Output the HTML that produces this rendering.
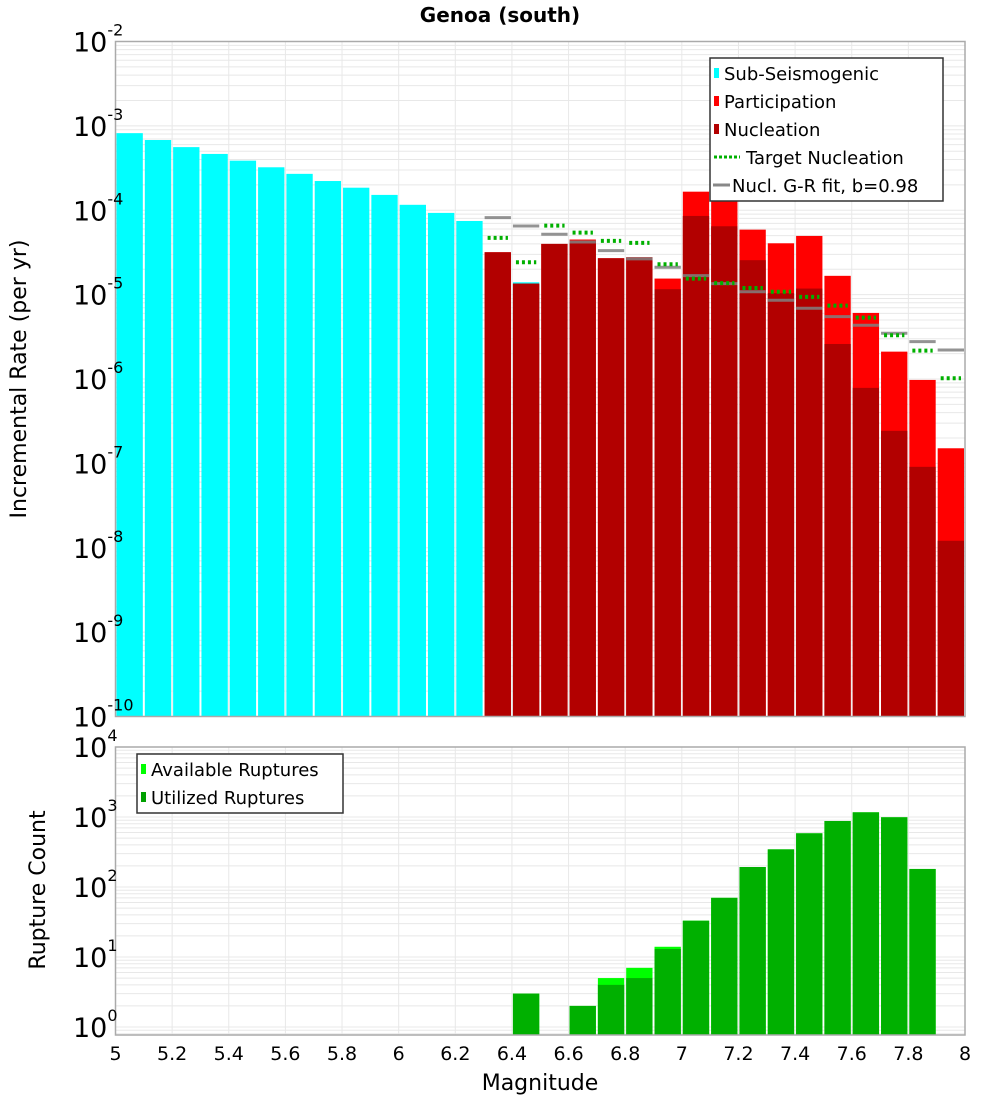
<!DOCTYPE html>
<html><head><meta charset="utf-8">
<style>
html,body{margin:0;padding:0;background:#fff;}
svg{display:block;font-family:"DejaVu Sans","Liberation Sans",sans-serif;}
</style></head>
<body>
<svg id="chart" width="1000" height="1100" viewBox="0 0 1000 1100" xmlns="http://www.w3.org/2000/svg">
<rect x="0" y="0" width="1000" height="1100" fill="#fff"/>
<text x="500" y="22" text-anchor="middle" font-size="20" font-weight="bold">Genoa (south)</text>
<g id="gtop"></g>
<g id="gbot"></g>
</svg>
<script>
// ---- data ----
const binCenters = [5.05,5.15,5.25,5.35,5.45,5.55,5.65,5.75,5.85,5.95,6.05,6.15,6.25,6.35,6.45,6.55,6.65,6.75,6.85,6.95,7.05,7.15,7.25,7.35,7.45,7.55,7.65,7.75,7.85,7.95];
const subSeis = [8.2e-4,6.8e-4,5.6e-4,4.65e-4,3.87e-4,3.23e-4,2.7e-4,2.22e-4,1.85e-4,1.52e-4,1.16e-4,9.3e-5,7.46e-5,0,1.4e-5,0,0,0,0,0,0,0,0,0,0,0,0,0,0,0];
const participation = [0,0,0,0,0,0,0,0,0,0,0,0,0,3.18e-5,1.35e-5,3.99e-5,4.5e-5,2.7e-5,2.77e-5,1.55e-5,1.66e-4,1.4e-4,5.89e-5,4.06e-5,4.96e-5,1.67e-5,6.07e-6,2.11e-6,9.75e-7,1.51e-7];
const nucleation = [0,0,0,0,0,0,0,0,0,0,0,0,0,3.18e-5,1.35e-5,3.99e-5,4.36e-5,2.7e-5,2.77e-5,1.16e-5,8.56e-5,6.46e-5,2.56e-5,1.04e-5,1.18e-5,2.6e-6,7.85e-7,2.43e-7,9.1e-8,1.21e-8];
const targetNucl = [0,0,0,0,0,0,0,0,0,0,0,0,0,4.7e-5,2.42e-5,6.57e-5,5.43e-5,4.33e-5,4.1e-5,2.29e-5,1.55e-5,1.37e-5,1.2e-5,1.08e-5,9.4e-6,7.4e-6,5.34e-6,3.3e-6,2.17e-6,1.02e-6];
const grFit = [0,0,0,0,0,0,0,0,0,0,0,0,0,8.17e-5,6.5e-5,5.2e-5,4.21e-5,3.32e-5,2.65e-5,2.11e-5,1.68e-5,1.35e-5,1.08e-5,8.59e-6,6.9e-6,5.49e-6,4.34e-6,3.49e-6,2.77e-6,2.21e-6];
const availRup = [0,0,0,0,0,0,0,0,0,0,0,0,0,0,3,0,2,5,7,14,33,70,193,345,585,877,1167,991,181,0];
const usedRup = [0,0,0,0,0,0,0,0,0,0,0,0,0,0,3,0,2,4,5,13,33,70,193,345,585,877,1167,991,181,0];
const xTicks = [5,5.2,5.4,5.6,5.8,6,6.2,6.4,6.6,6.8,7,7.2,7.4,7.6,7.8,8];
const topExp = [-2,-3,-4,-5,-6,-7,-8,-9,-10];
const botExp = [4,3,2,1,0];

// ---- axes ----
const X0=115.5, X1=965, XMIN=5, XMAX=8;
const xs = m => X0 + (m-XMIN)/(XMAX-XMIN)*(X1-X0);
const T0=41.5, T1=716.5, TMAXE=-2, TMINE=-10;
const ysT = v => T0 + (TMAXE-Math.log10(v))/(TMAXE-TMINE)*(T1-T0);
const B0=747, BPD=70, B1=1035;
const ysB = v => B0 + (4-Math.log10(v))*BPD;
const NS="http://www.w3.org/2000/svg";
function mk(parent,tag,attrs){const e=document.createElementNS(NS,tag);for(const k in attrs)e.setAttribute(k,attrs[k]);parent.appendChild(e);return e;}
const gTop=document.getElementById('gtop'), gBot=document.getElementById('gbot');
const bw=(X1-X0)/30;

function grid(g,y0,y1,yfn,expLo,expHi){
  for(let e=expLo;e<expHi;e++){for(let k=1;k<10;k++){const y=yfn(k*Math.pow(10,e));if(y<y0-0.5||y>y1+0.5)continue;
    const l=mk(g,'line',{x1:X0,x2:X1,y1:y,y2:y,stroke:'#e8e8e8','stroke-width':1});
    
    }}
  xTicks.forEach(t=>{const l=mk(g,'line',{x1:xs(t),x2:xs(t),y1:y0,y2:y1,stroke:'#e8e8e8','stroke-width':1});
    
    });
}
grid(gTop,T0,T1,ysT,-10,-1);
grid(gBot,B0,B1,ysB,-1,4);

function bar(g,i,v,y1,yfn,color,name){
  if(!(v>0))return;
  const yt=Math.max(yfn(v),0);
  const r=mk(g,'rect',{x:xs(binCenters[i])-bw/2+1,y:yt,width:bw-2,height:Math.max(0,y1-yt),fill:color});
  
  
}
binCenters.forEach((c,i)=>{
  bar(gTop,i,subSeis[i],T1,ysT,'#00ffff','bar-sub-seismogenic');
  bar(gTop,i,participation[i],T1,ysT,'#ff0000','bar-participation');
  bar(gTop,i,nucleation[i],T1,ysT,'#b20000','bar-nucleation');
});
binCenters.forEach((c,i)=>{
  if(grFit[i]>0){const y=ysT(grFit[i]);const l=mk(gTop,'line',{x1:xs(c)-bw/2+1,x2:xs(c)+bw/2-1,y1:y,y2:y,stroke:'#808080','stroke-width':3,'stroke-opacity':0.85});
    
    }
  if(targetNucl[i]>0){const y=ysT(targetNucl[i]);const l=mk(gTop,'line',{x1:xs(c)-bw/2+4,x2:xs(c)+bw/2-4,y1:y,y2:y,stroke:'#00b000','stroke-width':4,'stroke-dasharray':'3,3'});
    
    }
  bar(gBot,i,availRup[i],B1,ysB,'#00ff00','bar-available-ruptures');
  bar(gBot,i,usedRup[i],B1,ysB,'#00b000','bar-utilized-ruptures');
});

// frames
[[T0,T1,gTop,'top-plot-frame'],[B0,B1,gBot,'bottom-plot-frame']].forEach(([a,b,g,n])=>{
  const r=mk(g,'rect',{x:X0,y:a,width:X1-X0,height:b-a,fill:'none',stroke:'#aaa','stroke-width':1.5});
  
  
});

function ylab(g,y,e,name){
  const t=mk(g,'text',{x:73,y:y+10,'font-size':27});
  
  
  t.textContent='10';
  const s=mk(t,'tspan',{dy:-16,'font-size':16});s.textContent=String(e);
}
topExp.forEach(e=>ylab(gTop,ysT(Math.pow(10,e)),e,'y-tick-label'));
botExp.forEach(e=>ylab(gBot,ysB(Math.pow(10,e)),e,'y-tick-label'));
xTicks.forEach(t=>{const tx=mk(gBot,'text',{x:xs(t),y:1060,'font-size':19,'text-anchor':'middle'});
  
  
  tx.textContent=String(t);});

// axis titles
let at=mk(gTop,'text',{x:0,y:0,'font-size':22,'text-anchor':'middle',transform:'translate(26,379) rotate(-90)'});


at.textContent='Incremental Rate (per yr)';
at=mk(gBot,'text',{x:0,y:0,'font-size':22,'text-anchor':'middle',transform:'translate(45,890) rotate(-90)'});


at.textContent='Rupture Count';
at=mk(gBot,'text',{x:540,y:1090,'font-size':22,'text-anchor':'middle'});


at.textContent='Magnitude';

// legends
function legend(g,x,y,w,h,items,name){
  const lg=mk(g,'g',{});
  
  
  mk(lg,'rect',{x:x,y:y,width:w,height:h,fill:'#fff',stroke:'#333','stroke-width':1.5});
  items.forEach((it,k)=>{
    const cy=y+15+k*28;
    const e=mk(lg,'g',{});
    
    
    let tx=x+14;
    if(it.type==='box'){mk(e,'rect',{x:x+4,y:cy-5,width:5,height:10,fill:it.c});}
    else if(it.type==='dot'){mk(e,'line',{x1:x+4,x2:x+30,y1:cy,y2:cy,stroke:it.c,'stroke-width':3,'stroke-dasharray':'3,2'});tx=x+36;}
    else {mk(e,'line',{x1:x+3,x2:x+20,y1:cy,y2:cy,stroke:it.c,'stroke-width':3});tx=x+22;}
    const t=mk(e,'text',{x:tx,y:cy+7,'font-size':18});t.textContent=it.t;
  });
}
legend(gTop,710,58,233,143,[
 {type:'box',c:'#00ffff',t:'Sub-Seismogenic'},
 {type:'box',c:'#ff0000',t:'Participation'},
 {type:'box',c:'#b20000',t:'Nucleation'},
 {type:'dot',c:'#00b000',t:'Target Nucleation'},
 {type:'line',c:'#888',t:'Nucl. G-R fit, b=0.98'}],'rate-legend');
legend(gBot,137,754,206,59,[
 {type:'box',c:'#00ff00',t:'Available Ruptures'},
 {type:'box',c:'#00a000',t:'Utilized Ruptures'}],'count-legend');
</script>
</body></html>
